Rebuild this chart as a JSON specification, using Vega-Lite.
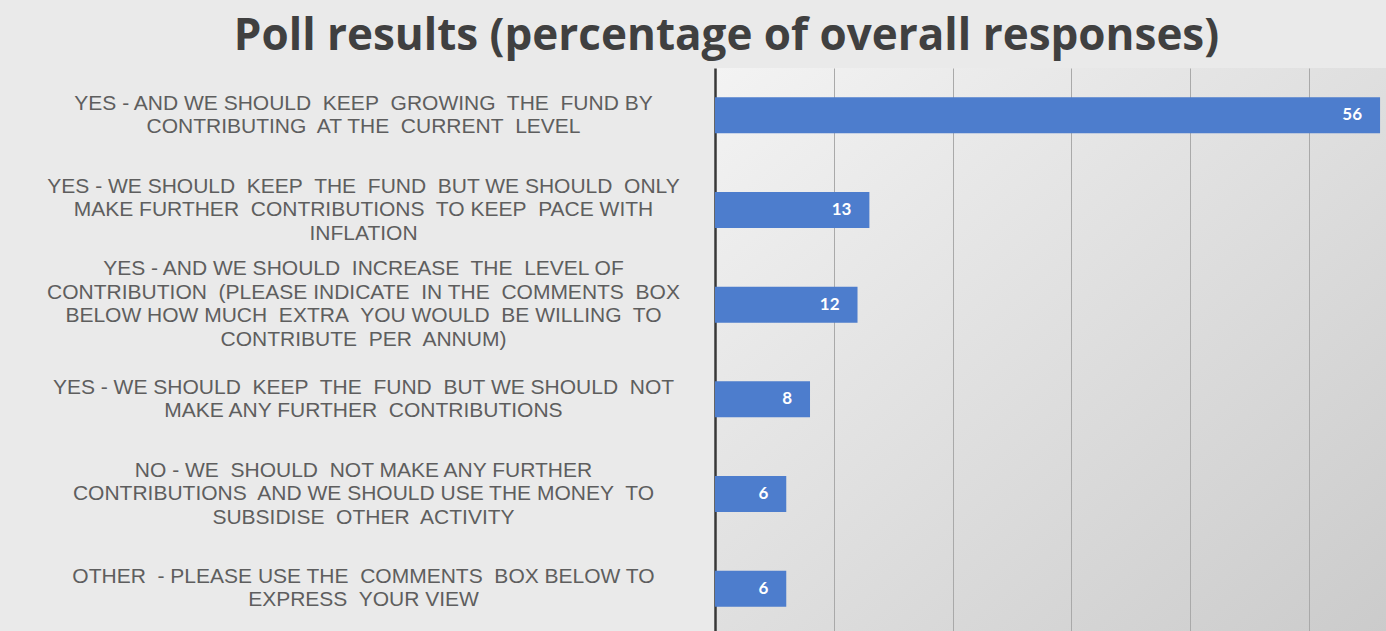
{
  "$schema": "https://vega.github.io/schema/vega-lite/v6.json",
  "width": 671,
  "height": 568,
  "autosize": {"type": "none"},
  "padding": {"left": 715, "top": 68, "right": 0, "bottom": 0},
  "background": "#eaeaea",
  "title": {
    "text": "Poll results (percentage of overall responses)",
    "anchor": "middle",
    "frame": "group",
    "dx": -324,
    "offset": 9,
    "fontSize": 44,
    "font": "Open Sans",
    "fontWeight": "bold",
    "color": "#404040"
  },
  "data": {
    "values": [
      {"answer": "YES - AND WE SHOULD\u00a0 KEEP\u00a0 GROWING\u00a0 THE\u00a0 FUND BY|CONTRIBUTING\u00a0 AT THE\u00a0 CURRENT\u00a0 LEVEL", "value": 56},
      {"answer": "YES - WE SHOULD\u00a0 KEEP\u00a0 THE\u00a0 FUND\u00a0 BUT WE SHOULD\u00a0 ONLY|MAKE FURTHER\u00a0 CONTRIBUTIONS\u00a0 TO KEEP\u00a0 PACE WITH|INFLATION", "value": 13},
      {"answer": "YES - AND WE SHOULD\u00a0 INCREASE\u00a0 THE\u00a0 LEVEL OF|CONTRIBUTION\u00a0 (PLEASE INDICATE\u00a0 IN THE\u00a0 COMMENTS\u00a0 BOX|BELOW HOW MUCH\u00a0 EXTRA\u00a0 YOU WOULD\u00a0 BE WILLING\u00a0 TO|CONTRIBUTE\u00a0 PER\u00a0 ANNUM)", "value": 12},
      {"answer": "YES - WE SHOULD\u00a0 KEEP\u00a0 THE\u00a0 FUND\u00a0 BUT WE SHOULD\u00a0 NOT|MAKE ANY FURTHER\u00a0 CONTRIBUTIONS", "value": 8},
      {"answer": "NO - WE\u00a0 SHOULD\u00a0 NOT MAKE ANY FURTHER|CONTRIBUTIONS\u00a0 AND WE SHOULD USE THE MONEY\u00a0 TO|SUBSIDISE\u00a0 OTHER\u00a0 ACTIVITY", "value": 6},
      {"answer": "OTHER\u00a0 - PLEASE USE THE\u00a0 COMMENTS\u00a0 BOX BELOW TO|EXPRESS\u00a0 YOUR VIEW", "value": 6}
    ]
  },
  "encoding": {
    "y": {
      "field": "answer",
      "type": "nominal",
      "sort": null,
      "scale": {"paddingInner": 0.62, "paddingOuter": 0.31},
      "axis": {
        "title": null,
        "labelExpr": "split(datum.label, '|')",
        "labelAlign": "center",
        "labelBaseline": "middle",
        "labelOffset": {
          "condition": [
            {"test": "length(split(datum.value, '|')) == 2", "value": -11.75},
            {"test": "length(split(datum.value, '|')) == 3", "value": -23.5},
            {"test": "length(split(datum.value, '|')) == 4", "value": -35.25}
          ],
          "value": 0
        },
        "labelPadding": 352,
        "labelFontSize": 21,
        "labelFont": "Liberation Sans",
        "labelColor": "#5e5e5e",
        "labelLineHeight": 23.5,
        "labelLimit": 0,
        "ticks": false,
        "domain": true,
        "domainColor": "#383838",
        "domainWidth": 2.5
      }
    },
    "x": {
      "field": "value",
      "type": "quantitative",
      "scale": {"domain": [0, 56.5], "nice": false},
      "axis": {
        "title": null,
        "labels": false,
        "ticks": false,
        "domain": false,
        "grid": true,
        "values": [10, 20, 30, 40, 50],
        "gridColor": "#a9a9a9",
        "gridWidth": 1
      }
    }
  },
  "layer": [
    {"mark": {"type": "bar", "color": "#4d7dcd"}},
    {
      "mark": {"type": "text", "align": "right", "dx": -18, "color": "white", "font": "Lato", "fontWeight": "bold", "fontSize": 17},
      "encoding": {"text": {"field": "value", "type": "quantitative"}}
    }
  ],
  "config": {
    "view": {
      "stroke": null,
      "fill": {
        "gradient": "linear",
        "x1": 0, "y1": 0, "x2": 1, "y2": 1,
        "stops": [
          {"offset": 0, "color": "#f3f3f3"},
          {"offset": 1, "color": "#cbcbcb"}
        ]
      }
    }
  }
}
